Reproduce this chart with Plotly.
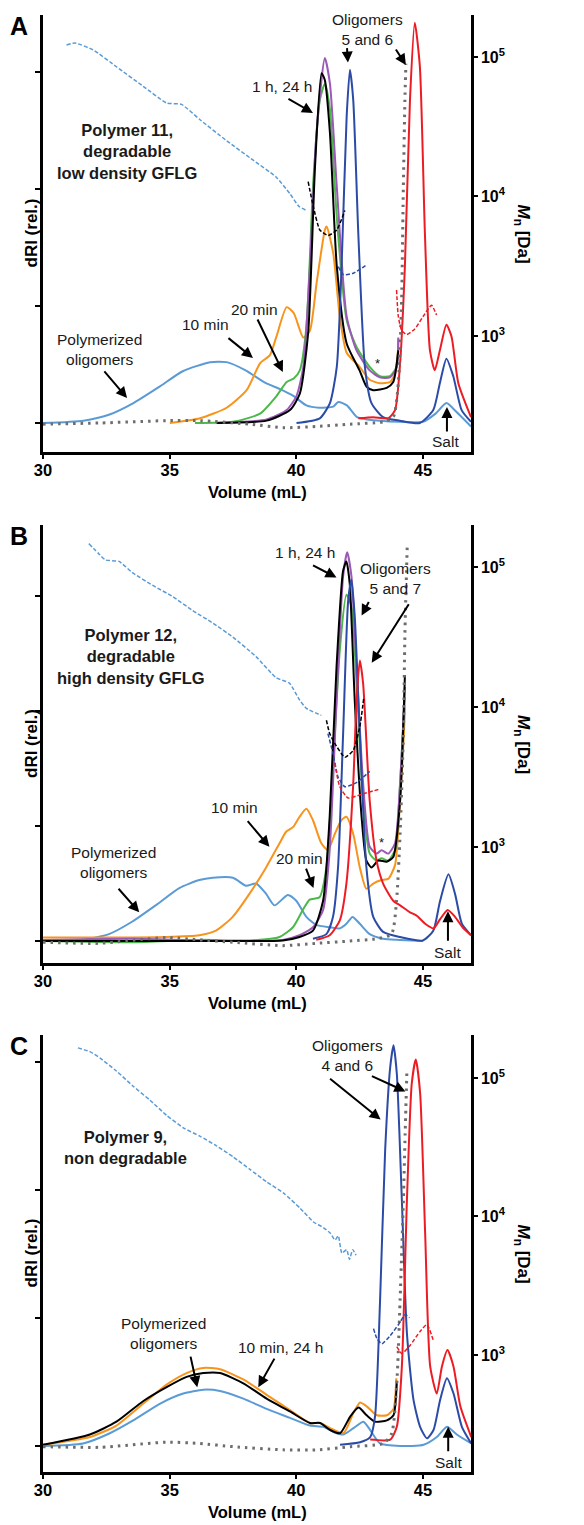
import plotly.graph_objects as go

# ---------------- Panel A data (Volume mL, dRI rel.) ----------------
A_LB_X = [30, 31.6, 32.6, 33.57, 34.6, 35.5, 36.6, 37.25, 38.0, 38.8, 39.36, 39.9, 40.4, 40.9, 41.46, 41.66, 42.0, 42.4, 42.8, 44.1, 45.0, 45.5, 45.93, 46.3, 46.9]
A_LB_Y = [0, 0.02, 0.07, 0.17, 0.31, 0.44, 0.52, 0.52, 0.45, 0.34, 0.29, 0.23, 0.15, 0.13, 0.14, 0.18, 0.15, 0.05, 0.03, 0.01, 0.01, 0.08, 0.17, 0.10, -0.03]
A_OR_X = [35.01, 36.2, 37.25, 38.04, 38.57, 38.96, 39.22, 39.62, 39.9, 40.28, 40.54, 40.8, 41.13, 41.2, 41.46, 41.72, 41.99, 42.5, 42.9, 43.3, 43.7, 43.9, 44.03]
A_OR_Y = [0.0, 0.04, 0.13, 0.28, 0.51, 0.58, 0.74, 0.99, 0.94, 0.73, 0.79, 1.19, 1.65, 1.68, 1.45, 0.91, 0.60, 0.48, 0.37, 0.34, 0.35, 0.42, 0.65]
A_GR_X = [36.0, 37.5, 38.57, 39.22, 39.62, 39.9, 40.14, 40.4, 40.67, 40.93, 41.13, 41.33, 41.6, 41.99, 42.38, 42.9, 43.3, 43.7, 43.96, 44.03]
A_GR_Y = [0, 0.01, 0.08, 0.23, 0.35, 0.38, 0.45, 0.82, 2.05, 2.76, 2.90, 2.68, 1.76, 0.88, 0.65, 0.48, 0.40, 0.40, 0.48, 0.72]
A_PU_X = [36.86, 38.83, 39.62, 40.01, 40.28, 40.54, 40.8, 41.13, 41.33, 41.6, 41.99, 42.38, 42.9, 43.3, 43.7, 43.96, 44.03]
A_PU_Y = [0, 0.03, 0.11, 0.23, 0.48, 1.34, 2.48, 3.12, 2.90, 2.02, 0.91, 0.62, 0.45, 0.39, 0.39, 0.47, 0.73]
A_BK_X = [36.86, 38.83, 39.75, 40.14, 40.47, 40.74, 41.0, 41.13, 41.33, 41.6, 41.99, 42.5, 42.78, 43.04, 43.57, 43.83, 44.03]
A_BK_Y = [0, 0.02, 0.11, 0.25, 0.77, 2.19, 2.99, 2.93, 2.48, 1.34, 0.68, 0.45, 0.31, 0.28, 0.30, 0.35, 0.62]
A_DB_X = [40.01, 40.93, 41.33, 41.6, 41.79, 41.99, 42.12, 42.25, 42.45, 42.71, 42.97, 43.43, 44.09, 44.88, 45.41, 45.67, 45.93, 46.2, 46.53, 46.9]
A_DB_Y = [0, 0.04, 0.17, 0.48, 1.34, 2.62, 3.02, 2.76, 1.62, 0.48, 0.17, 0.05, 0.02, 0, 0.11, 0.34, 0.55, 0.40, 0.11, 0.01]
A_RD_X = [42.45, 43.04, 43.63, 43.9, 44.09, 44.29, 44.49, 44.68, 44.88, 45.08, 45.28, 45.47, 45.67, 45.93, 46.13, 46.4, 46.9]
A_RD_Y = [0.04, 0.05, 0.04, 0.11, 0.48, 1.34, 2.76, 3.42, 3.05, 1.62, 0.62, 0.45, 0.62, 0.84, 0.74, 0.34, 0.05]
A_GY_X = [30, 32.25, 34.88, 36.2, 38.17, 39.5, 40.8, 42.12, 43.43, 43.83, 44.03, 44.16, 44.22, 44.29, 44.33]
A_GY_Y = [-0.01, 0, 0.02, 0.02, -0.01, -0.04, -0.03, -0.01, 0.01, 0.05, 0.34, 1.05, 1.9, 2.76, 3.07]
# Mn traces panel A (Volume mL, Mn Da as log10)
A_LB_MN_X = [30.93, 31.26, 31.99, 32.9, 33.96, 34.88, 35.47, 36.2, 37.25, 38.3, 39.2, 39.75, 40.1, 40.4]
A_LB_MN_LOG = [5.086, 5.10, 5.05, 4.93, 4.79, 4.67, 4.66, 4.55, 4.40, 4.26, 4.14, 4.02, 3.93, 3.90]
A_BK_MN_X = [40.47, 40.67, 40.93, 41.26, 41.6, 41.92]
A_BK_MN_LOG = [4.106, 3.93, 3.76, 3.72, 3.76, 3.90]
A_DB_MN_X = [41.66, 41.86, 42.25, 42.78]
A_DB_MN_LOG = [3.497, 3.44, 3.45, 3.51]
A_RD_MN_X = [43.96, 44.03, 44.16, 44.36, 44.68, 45.01, 45.34, 45.54]
A_RD_MN_LOG = [3.33, 3.14, 3.04, 3.01, 3.05, 3.14, 3.22, 3.15]

# ---------------- Panel B data ----------------
B_LB_X = [30, 31.55, 32.6, 33.53, 34.45, 35.38, 36.17, 36.7, 37.5, 38.02, 38.41, 38.81, 39.14, 39.67, 40.0, 40.4, 40.79, 41.32, 41.72, 41.98, 42.22, 42.51, 42.9, 43.43, 44.1, 45.0]
B_LB_Y = [0, 0.01, 0.06, 0.17, 0.31, 0.46, 0.53, 0.55, 0.55, 0.48, 0.50, 0.41, 0.31, 0.40, 0.35, 0.21, 0.14, 0.12, 0.11, 0.15, 0.21, 0.15, 0.06, 0.02, 0.01, 0.0]
B_OR_X = [30, 32.2, 34.85, 36.17, 36.83, 37.49, 38.15, 38.81, 39.34, 39.6, 39.87, 40.13, 40.4, 40.66, 40.99, 41.25, 41.52, 41.78, 41.98, 42.25, 42.51, 42.77, 43.04, 43.37, 43.63, 43.9, 44.1, 44.25, 44.29]
B_OR_Y = [0.03, 0.03, 0.035, 0.05, 0.09, 0.21, 0.41, 0.64, 0.85, 0.95, 0.99, 1.08, 1.15, 1.05, 0.85, 0.79, 0.93, 1.05, 1.08, 0.93, 0.64, 0.455, 0.50, 0.53, 0.54, 0.66, 1.22, 1.80, 2.03]
B_GR_X = [30, 33.53, 36.17, 38.15, 39.34, 39.87, 40.26, 40.53, 40.92, 41.19, 41.45, 41.72, 41.98, 42.18, 42.38, 42.64, 42.9, 43.17, 43.37, 43.63, 43.9, 44.1, 44.29]
B_GR_Y = [0, -0.01, 0.01, 0.005, 0.035, 0.12, 0.27, 0.36, 0.38, 0.64, 1.51, 2.53, 3.01, 2.91, 2.24, 1.22, 0.76, 0.70, 0.72, 0.70, 0.79, 1.37, 2.12]
B_PU_X = [30, 33.53, 37.49, 39.47, 40.13, 40.66, 41.06, 41.32, 41.59, 41.85, 42.01, 42.18, 42.38, 42.64, 42.9, 43.17, 43.37, 43.63, 43.9, 44.1, 44.29]
B_PU_Y = [0.01, 0.02, 0, 0.01, 0.05, 0.12, 0.27, 0.79, 2.09, 3.17, 3.38, 3.17, 2.38, 1.37, 0.82, 0.76, 0.79, 0.76, 0.85, 1.37, 2.21]
B_BK_X = [30, 37.49, 39.47, 40.13, 40.66, 41.06, 41.32, 41.59, 41.85, 41.98, 42.11, 42.31, 42.58, 42.77, 42.97, 43.24, 43.57, 43.83, 44.1, 44.29]
B_BK_Y = [0, 0, 0.005, 0.035, 0.09, 0.35, 1.08, 2.38, 3.22, 3.30, 3.11, 2.09, 1.08, 0.70, 0.64, 0.70, 0.69, 0.73, 1.22, 2.31]
B_DB_X = [40.66, 41.19, 41.45, 41.65, 41.85, 42.05, 42.18, 42.31, 42.51, 42.77, 43.04, 43.43, 44.1, 45.0, 45.41, 45.68, 46.01, 46.27, 46.54, 46.9]
B_DB_Y = [0.02, 0.06, 0.21, 0.64, 1.80, 2.96, 3.14, 2.82, 1.80, 0.64, 0.21, 0.08, 0.035, 0.005, 0.09, 0.35, 0.58, 0.41, 0.15, 0.05]
B_RD_X = [40.79, 41.32, 41.72, 41.98, 42.25, 42.38, 42.51, 42.64, 42.9, 43.17, 43.43, 43.83, 44.1, 44.49, 44.76, 45.09, 45.42, 45.68, 45.98, 46.27, 46.6, 46.9]
B_RD_Y = [0.01, 0.05, 0.18, 0.50, 1.37, 2.09, 2.44, 2.24, 1.22, 0.70, 0.50, 0.35, 0.31, 0.25, 0.22, 0.15, 0.11, 0.19, 0.27, 0.21, 0.11, 0.05]
B_GY_X = [30, 32.2, 34.85, 36.17, 37.49, 39.47, 40.79, 42.11, 43.17, 43.76, 43.96, 44.1, 44.23, 44.29, 44.38]
B_GY_Y = [-0.01, -0.02, 0.03, 0.01, -0.01, -0.04, -0.02, 0, 0.02, 0.06, 0.35, 0.93, 1.80, 2.67, 3.42]
B_LB_MN_X = [31.81, 32.2, 32.47, 33.0, 33.53, 34.32, 35.11, 35.9, 36.7, 37.49, 38.41, 39.2, 39.73, 40.13, 40.4, 40.99]
B_LB_MN_LOG = [5.167, 5.095, 5.05, 5.04, 4.96, 4.87, 4.79, 4.69, 4.60, 4.50, 4.36, 4.21, 4.17, 4.05, 3.99, 3.94]
B_BK_MN_X = [41.19, 41.32, 41.52, 41.92, 42.25, 42.51, 42.67]
B_BK_MN_LOG = [3.905, 3.81, 3.74, 3.64, 3.69, 3.86, 4.07]
B_DB_MN_X = [41.25, 41.45, 41.65, 41.92, 42.38, 42.9]
B_DB_MN_LOG = [3.81, 3.67, 3.50, 3.43, 3.46, 3.54]
B_RD_MN_X = [41.52, 41.72, 42.05, 42.64, 43.24]
B_RD_MN_LOG = [3.60, 3.43, 3.35, 3.38, 3.41]

# ---------------- Panel C data ----------------
C_LB_X = [30, 31.58, 32.64, 33.56, 34.61, 35.54, 36.33, 36.99, 37.91, 38.83, 39.75, 40.54, 41.07, 41.47, 41.86, 42.26, 42.65, 42.92, 43.31, 44.1, 45.03, 45.55, 45.95, 46.34, 46.91]
C_LB_Y = [0, 0.02, 0.10, 0.20, 0.33, 0.41, 0.44, 0.43, 0.37, 0.29, 0.22, 0.16, 0.15, 0.11, 0.09, 0.14, 0.19, 0.125, 0.02, 0, 0.01, 0.07, 0.15, 0.09, 0.02]
C_OR_X = [30, 31.85, 32.9, 33.95, 34.88, 35.67, 36.33, 36.99, 37.91, 38.83, 39.75, 40.54, 40.94, 41.34, 41.86, 42.26, 42.52, 42.78, 43.18, 43.58, 43.84, 43.95]
C_OR_Y = [0.01, 0.07, 0.16, 0.33, 0.48, 0.57, 0.61, 0.60, 0.52, 0.40, 0.28, 0.18, 0.18, 0.14, 0.10, 0.26, 0.34, 0.31, 0.24, 0.24, 0.29, 0.53]
C_BK_X = [30, 31.85, 32.9, 33.95, 34.88, 35.67, 36.33, 36.99, 37.91, 38.83, 39.75, 40.54, 40.94, 41.34, 41.73, 42.13, 42.46, 42.78, 43.11, 43.58, 43.84, 43.97]
C_BK_Y = [0.01, 0.09, 0.19, 0.35, 0.46, 0.54, 0.57, 0.57, 0.49, 0.37, 0.27, 0.18, 0.18, 0.125, 0.10, 0.23, 0.30, 0.24, 0.19, 0.20, 0.24, 0.49]
C_DB_X = [41.73, 42.52, 42.92, 43.11, 43.31, 43.51, 43.71, 43.84, 43.97, 44.17, 44.37, 44.63, 44.89, 45.16, 45.42, 45.68, 45.95, 46.21, 46.54, 46.91]
C_DB_Y = [0.01, 0.03, 0.07, 0.23, 1.14, 2.31, 2.96, 3.13, 2.91, 1.92, 0.88, 0.36, 0.15, 0.06, 0.125, 0.36, 0.53, 0.41, 0.15, 0.02]
C_RD_X = [42.92, 43.71, 43.97, 44.17, 44.37, 44.56, 44.72, 44.89, 45.09, 45.29, 45.55, 45.75, 45.97, 46.21, 46.48, 46.91]
C_RD_Y = [0.05, 0.05, 0.15, 0.62, 1.92, 2.83, 3.02, 2.76, 1.66, 0.62, 0.41, 0.62, 0.75, 0.62, 0.31, 0.07]
C_GY_X = [30, 32.24, 34.88, 36.19, 37.51, 39.49, 40.81, 42.13, 43.44, 43.77, 43.97, 44.1, 44.23, 44.3, 44.37]
C_GY_Y = [-0.005, -0.01, 0.03, 0.02, -0.005, -0.03, -0.03, -0.005, 0.02, 0.10, 0.49, 1.14, 1.92, 2.44, 2.94]
C_LB_MN_X = [31.38, 31.85, 32.24, 32.9, 33.56, 34.22, 34.88, 35.54, 36.19, 36.85, 37.51, 38.17, 38.83, 39.49, 40.15, 40.68, 41.07, 41.34, 41.53, 41.66, 41.8, 41.99, 42.1, 42.23, 42.36]
C_LB_MN_LOG = [5.217, 5.19, 5.145, 5.05, 4.94, 4.84, 4.73, 4.64, 4.58, 4.51, 4.43, 4.34, 4.25, 4.17, 4.06, 3.96, 3.92, 3.88, 3.83, 3.86, 3.735, 3.76, 3.69, 3.76, 3.72]
C_DB_MN_X = [43.05, 43.18, 43.38, 43.71, 44.04, 44.3, 44.47]
C_DB_MN_LOG = [3.19, 3.12, 3.08, 3.14, 3.22, 3.29, 3.27]
C_RD_MN_X = [43.97, 44.17, 44.5, 44.89, 45.16, 45.42]
C_RD_MN_LOG = [3.06, 3.01, 3.07, 3.17, 3.22, 3.10]

MN_TICKS = [1e3, 1e4, 1e5]
MN_TICKTEXT = ["10<sup>3</sup>", "10<sup>4</sup>", "10<sup>5</sup>"]
X_TICKS = [30, 35, 40, 45]

COL = dict(lb="#5b9bd5", orange="#f7941d", green="#4cb849", purple="#9b59b6",
           black="#000000", db="#2b4ba6", red="#ed1c24", grey="#6d6d6d")
FONT = "Liberation Sans, Arial, sans-serif"
TXT = 15.5      # annotation text size
BTXT = 16.5     # bold panel title size
ATXT = 16.5     # axis title size
XTICK = 16.5    # x tick label size
YTICK = 16      # right tick label size

fig = go.Figure()


def line(x, y, color, xa, ya, width=2.0, dash=None, smooth=0.6):
    fig.add_trace(go.Scatter(
        x=x, y=y, xaxis=xa, yaxis=ya, mode="lines", showlegend=False,
        hoverinfo="skip",
        line=dict(color=color, width=width, dash=dash, shape="spline", smoothing=smooth)))


def mnline(x, logs, color, xa, ya, dash="4px,2px"):
    line(x, [10 ** v for v in logs], color, xa, ya, width=1.5, dash=dash, smooth=0.5)


def dotted(x, y, xa, ya):
    fig.add_trace(go.Scatter(
        x=x, y=y, xaxis=xa, yaxis=ya, mode="lines", showlegend=False, hoverinfo="skip",
        line=dict(color=COL["grey"], width=3, dash="2.5px,5px", shape="spline", smoothing=0.6)))


# Panel A
line(A_LB_X, A_LB_Y, COL["lb"], "x", "y")
line(A_OR_X, A_OR_Y, COL["orange"], "x", "y")
line(A_GR_X, A_GR_Y, COL["green"], "x", "y")
line(A_PU_X, A_PU_Y, COL["purple"], "x", "y")
line(A_BK_X, A_BK_Y, COL["black"], "x", "y")
line(A_DB_X, A_DB_Y, COL["db"], "x", "y")
line(A_RD_X, A_RD_Y, COL["red"], "x", "y")
dotted(A_GY_X, A_GY_Y, "x", "y")
mnline(A_LB_MN_X, A_LB_MN_LOG, COL["lb"], "x", "y2")
mnline(A_BK_MN_X, A_BK_MN_LOG, COL["black"], "x", "y2")
mnline(A_DB_MN_X, A_DB_MN_LOG, COL["db"], "x", "y2")
mnline(A_RD_MN_X, A_RD_MN_LOG, COL["red"], "x", "y2")

# Panel B
line(B_LB_X, B_LB_Y, COL["lb"], "x2", "y3")
line(B_OR_X, B_OR_Y, COL["orange"], "x2", "y3")
line(B_GR_X, B_GR_Y, COL["green"], "x2", "y3")
line(B_PU_X, B_PU_Y, COL["purple"], "x2", "y3")
line(B_BK_X, B_BK_Y, COL["black"], "x2", "y3")
line(B_DB_X, B_DB_Y, COL["db"], "x2", "y3")
line(B_RD_X, B_RD_Y, COL["red"], "x2", "y3")
dotted(B_GY_X, B_GY_Y, "x2", "y3")
mnline(B_LB_MN_X, B_LB_MN_LOG, COL["lb"], "x2", "y4")
mnline(B_BK_MN_X, B_BK_MN_LOG, COL["black"], "x2", "y4")
mnline(B_DB_MN_X, B_DB_MN_LOG, COL["db"], "x2", "y4")
mnline(B_RD_MN_X, B_RD_MN_LOG, COL["red"], "x2", "y4")

# Panel C
line(C_LB_X, C_LB_Y, COL["lb"], "x3", "y5")
line(C_OR_X, C_OR_Y, COL["orange"], "x3", "y5")
line(C_BK_X, C_BK_Y, COL["black"], "x3", "y5")
line(C_DB_X, C_DB_Y, COL["db"], "x3", "y5")
line(C_RD_X, C_RD_Y, COL["red"], "x3", "y5")
dotted(C_GY_X, C_GY_Y, "x3", "y5")
mnline(C_LB_MN_X, C_LB_MN_LOG, COL["lb"], "x3", "y6")
mnline(C_DB_MN_X, C_DB_MN_LOG, COL["db"], "x3", "y6")
mnline(C_RD_MN_X, C_RD_MN_LOG, COL["red"], "x3", "y6")

# The page body has a default 8px margin, so the figure is drawn 8px in from the
# window's corner; positions below are window pixels shifted by that offset.
OFF = 8
W, H = 584 - OFF, 1525 - OFF
ML = 43 - OFF
MR = W - (471 - OFF)
PW = W - ML - MR
domains = [(15, 452), (525, 963), (1035, 1472)]   # window pixels (top, bottom)
dri_ranges = [(-0.248, 3.487), (-0.191, 3.617), (-0.203, 3.211)]
mn_ranges = [(2.168, 5.301), (2.171, 5.30), (2.155, 5.31)]

axis_common = dict(showline=True, linecolor="black", linewidth=2.5, ticks="outside",
                   tickcolor="black", tickwidth=2, showgrid=False, zeroline=False)
lay = {}
for i, (top, bot) in enumerate(domains):
    dom = [1 - (bot - OFF) / H, 1 - (top - OFF) / H]
    xn = "xaxis" if i == 0 else f"xaxis{i+1}"
    yl = "yaxis" if i == 0 else f"yaxis{2*i+1}"
    yr = f"yaxis{2*i+2}"
    xa_id = "x" if i == 0 else f"x{i+1}"
    yl_id = "y" if i == 0 else f"y{2*i+1}"
    lay[xn] = dict(domain=[0, 1], range=[30, 46.9], anchor=yl_id, tickvals=X_TICKS,
                   ticklen=4, ticklabelstandoff=-3,
                   tickfont=dict(family=FONT, size=XTICK, color="black", weight="bold"),
                   **axis_common)
    lay[yl] = dict(domain=dom, range=list(dri_ranges[i]), anchor=xa_id, tickvals=[0, 1, 2, 3],
                   showticklabels=False, ticklen=5, **axis_common)
    lay[yr] = dict(domain=dom, range=list(mn_ranges[i]), type="log", overlaying=yl_id,
                   side="right", anchor=xa_id, tickvals=MN_TICKS, ticktext=MN_TICKTEXT, ticklen=4,
                   tickfont=dict(family=FONT, size=YTICK, color="black", weight="bold"),
                   **axis_common)

ann = []


def px2paper(px, py):
    return (px - OFF - ML) / PW, 1 - (py - OFF) / H


def text_paper(txt, px, py, size=TXT, bold=False, angle=0, xanchor="center"):
    x, y = px2paper(px, py)
    ann.append(dict(text=txt, x=x, y=y, xref="paper", yref="paper", showarrow=False,
                    textangle=angle, xanchor=xanchor, yanchor="middle", borderpad=0,
                    font=dict(family=FONT, size=size, color="black",
                              weight="bold" if bold else "normal")))


def text_data(txt, x, y, xr, yr, size=TXT, bold=False):
    ann.append(dict(text=txt, x=x, y=y, xref=xr, yref=yr, showarrow=False,
                    xanchor="center", yanchor="middle",
                    font=dict(family=FONT, size=size, color="#1a1a1a",
                              weight="bold" if bold else "normal")))


def arrow(x, y, ax, ay, xr, yr):
    ann.append(dict(text="", x=x, y=y, xref=xr, yref=yr, ax=ax, ay=ay, showarrow=True,
                    arrowhead=2, arrowsize=1.1, arrowwidth=2, arrowcolor="black"))


for i, (top, bot) in enumerate(domains):
    mid = (top + bot) / 2
    # panel letter: left-anchored just inside the figure's left edge
    text_paper(["A", "B", "C"][i], OFF + 1, top + 11, size=25, bold=True, xanchor="left")
    text_paper("dRI (rel.)", 31, mid, size=17, bold=True, angle=-90)
    text_paper("<i>M</i><sub>n</sub> [Da]", 522, mid, size=17, bold=True, angle=90)
    text_paper("Volume (mL)", 257, bot + 40, size=ATXT, bold=True)

# Panel A annotations
text_data("Oligomers<br>5 and 6", 42.83, 3.36, "x", "y")
arrow(42.04, 3.08, -1, -16, "x", "y")
arrow(44.33, 3.06, -11, -17, "x", "y")
text_data("1 h, 24 h", 39.44, 2.88, "x", "y")
arrow(40.66, 2.65, -26, -15, "x", "y")
text_data("Polymer 11,<br>degradable<br>low density GFLG", 33.32, 2.32, "x", "y", size=BTXT, bold=True)
text_data("20 min", 38.37, 0.97, "x", "y")
arrow(39.47, 0.436, -26, -54, "x", "y")
text_data("10 min", 36.4, 0.84, "x", "y")
arrow(38.29, 0.556, -26, -21, "x", "y")
text_data("Polymerized<br>oligomers", 32.25, 0.63, "x", "y")
arrow(33.32, 0.214, -24, -28, "x", "y")
text_data("*", 43.19, 0.51, "x", "y", size=13)
text_data("Salt", 45.91, -0.16, "x", "y")
arrow(45.95, 0.137, 0, 26, "x", "y")

# Panel B annotations
text_data("1 h, 24 h", 40.33, 3.38, "x2", "y3")
arrow(41.59, 3.16, -25, -13, "x2", "y3")
text_data("Oligomers<br>5 and 7", 43.93, 3.15, "x2", "y3")
arrow(42.58, 2.83, 8, -15, "x2", "y3")
arrow(42.98, 2.42, 38, -60, "x2", "y3")
text_data("Polymer 12,<br>degradable<br>high density GFLG", 33.48, 2.47, "x2", "y3", size=BTXT, bold=True)
text_data("10 min", 37.56, 1.16, "x2", "y3")
arrow(38.94, 0.82, -23, -27, "x2", "y3")
text_data("20 min", 40.13, 0.72, "x2", "y3")
arrow(40.68, 0.46, -8, -21, "x2", "y3")
text_data("Polymerized<br>oligomers", 32.77, 0.68, "x2", "y3")
arrow(33.8, 0.25, -22, -25, "x2", "y3")
text_data("*", 43.38, 0.86, "x2", "y3", size=13)
text_data("Salt", 45.99, -0.096, "x2", "y3")
arrow(45.99, 0.26, 0, 31, "x2", "y3")

# Panel C annotations
text_data("Oligomers<br>4 and 6", 42.02, 3.05, "x3", "y5")
arrow(43.33, 2.55, -52, -42, "x3", "y5")
arrow(44.31, 2.77, -35, -16, "x3", "y5")
text_data("Polymer 9,<br>non degradable", 33.24, 2.33, "x3", "y5", size=BTXT, bold=True)
text_data("Polymerized<br>oligomers", 34.74, 0.88, "x3", "y5")
arrow(36.09, 0.46, -7, -32, "x3", "y5")
text_data("10 min, 24 h", 39.37, 0.77, "x3", "y5")
arrow(38.5, 0.46, 17, -30, "x3", "y5")
text_data("Salt", 46.0, -0.13, "x3", "y5")
arrow(46.0, 0.15, 0, 26, "x3", "y5")

fig.update_layout(width=W, height=H, margin=dict(l=ML, r=MR, t=0, b=0),
                  plot_bgcolor="white", paper_bgcolor="white", annotations=ann,
                  font=dict(family=FONT), **lay)
fig.write_html("out.html")
